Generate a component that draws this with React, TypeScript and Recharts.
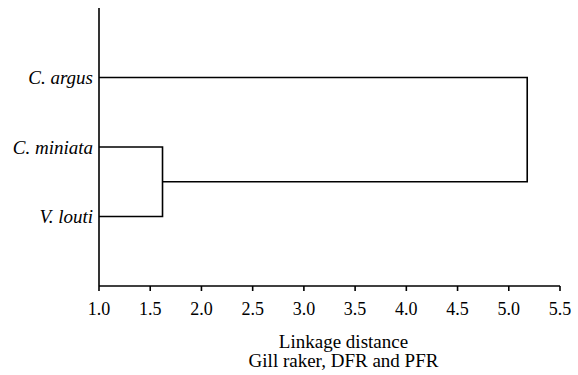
import { Scatter, ScatterChart, XAxis, YAxis } from 'recharts';

// Leaves, top to bottom, at y positions 1..3 of the vertical scale.
const leafNames = ['C. argus', 'C. miniata', 'V. louti'];
const leafPos = [1, 2, 3];
// Linkage distances of the two joins: (miniata, louti) then (argus, cluster).
const mergeHeights = [1.62, 5.18];
const xTicks = [1.0, 1.5, 2.0, 2.5, 3.0, 3.5, 4.0, 4.5, 5.0, 5.5];
const axisTitle = ['Linkage distance', 'Gill raker, DFR and PFR'];

const FONT = '"Liberation Serif", "Times New Roman", serif';
const BASE = 1.0;

// Each branch is a path of points drawn in order ("joint" line).
const innerMid = (leafPos[1] + leafPos[2]) / 2;
const branchA = [
  { x: BASE, y: leafPos[1] },
  { x: mergeHeights[0], y: leafPos[1] },
  { x: mergeHeights[0], y: leafPos[2] },
  { x: BASE, y: leafPos[2] },
];
const branchB = [
  { x: BASE, y: leafPos[0] },
  { x: mergeHeights[1], y: leafPos[0] },
  { x: mergeHeights[1], y: innerMid },
  { x: mergeHeights[0], y: innerMid },
];

const lineStyle = { stroke: '#000', strokeWidth: 1.6, fill: 'none' };

function AxisTitle(props: any) {
  const vb = props.viewBox ?? { x: 0, y: 0, width: 0 };
  const cx = vb.x + vb.width / 2 + 14;
  return (
    <text textAnchor="middle" style={{ fontFamily: FONT, fontSize: 19 }} fill="#000">
      <tspan x={cx} y={vb.y + 62}>
        {axisTitle[0]}
      </tspan>
      <tspan x={cx} y={vb.y + 81}>
        {axisTitle[1]}
      </tspan>
    </text>
  );
}

export default function App() {
  return (
    <div style={{ position: 'absolute', left: 0, top: 0, background: '#fff', fontFamily: FONT }}>
      <ScatterChart width={578} height={375} margin={{ top: 8, right: 18, bottom: 0, left: 0 }}>
        <XAxis
          type="number"
          dataKey="x"
          domain={[1, 5.5]}
          ticks={xTicks}
          tickFormatter={(v: number) => v.toFixed(1)}
          height={89}
          tickSize={5}
          tickMargin={11}
          axisLine={{ stroke: '#000', strokeWidth: 1.6 }}
          tickLine={{ stroke: '#000', strokeWidth: 1.6 }}
          tick={{ fontSize: 18, fill: '#000', style: { fontFamily: FONT } }}
          label={{ content: AxisTitle }}
          allowDataOverflow
        />
        <YAxis
          type="number"
          dataKey="y"
          domain={[0, 4]}
          reversed
          ticks={leafPos}
          tickFormatter={(v: number) => leafNames[leafPos.indexOf(v)] ?? ''}
          width={99}
          tickSize={0}
          tickMargin={6}
          tickLine={false}
          axisLine={{ stroke: '#000', strokeWidth: 1.6 }}
          tick={{ fontSize: 19, fontStyle: 'italic', fill: '#000', style: { fontFamily: FONT } }}
        />
        <Scatter
          data={branchA}
          line={lineStyle}
          lineType="joint"
          shape={() => <g />}
          isAnimationActive={false}
        />
        <Scatter
          data={branchB}
          line={lineStyle}
          lineType="joint"
          shape={() => <g />}
          isAnimationActive={false}
        />
      </ScatterChart>
    </div>
  );
}
